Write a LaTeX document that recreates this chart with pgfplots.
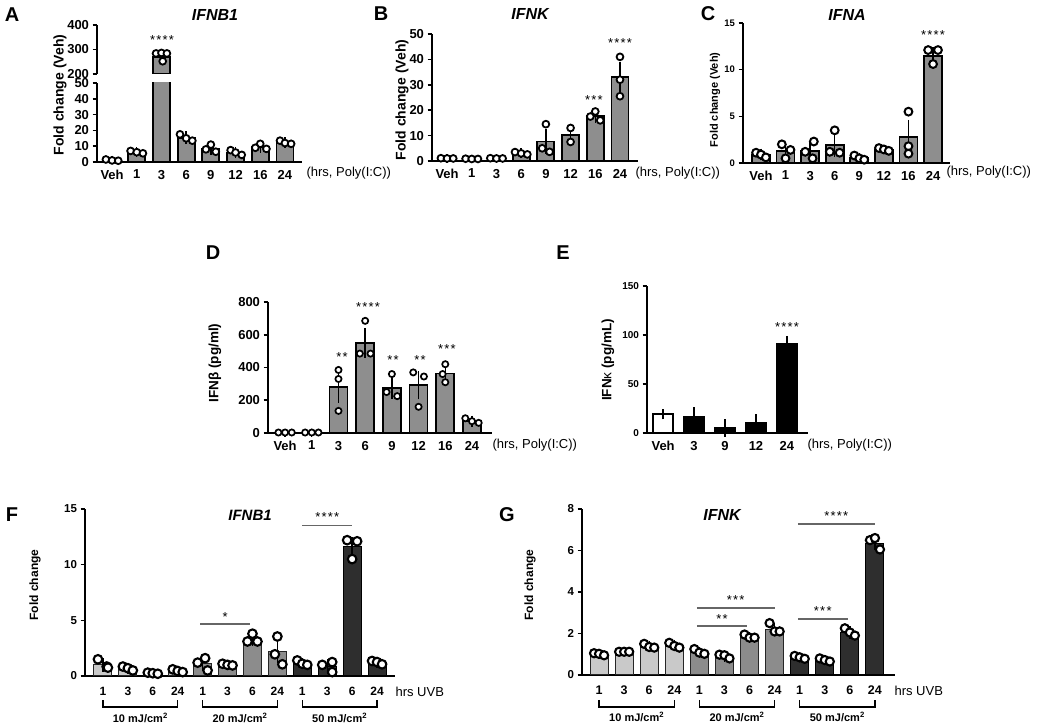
\documentclass[border=0pt]{standalone}
\usepackage{pgfplots}
\pgfplotsset{compat=1.18}
\usepackage{fontspec}
\setmainfont{Liberation Sans}
\definecolor{barg}{HTML}{8E8E8E}
\definecolor{lg}{HTML}{C9C9C9}
\definecolor{mg}{HTML}{8C8C8C}
\definecolor{dg}{HTML}{2E2E2E}
\definecolor{sig}{HTML}{666666}
\newcommand\fs[1]{\fontsize{#1}{#1}\selectfont}
\newcommand\sk{\kern1.2pt}
\pgfplotsset{
  gp/.style={
    scale only axis,
    axis lines*=left,
    axis line style={line width=1.8pt, black},
    tick align=outside,
    major tick length=4.5pt,
    xtick style={draw=none},
    ytick style={line width=1.6pt, black},
    tick label style={font=\fs{13}\bfseries},
    /pgf/number format/assume math mode=true,
    clip=false,
  },
  eb/.style={/pgfplots/error bars/y dir=both, /pgfplots/error bars/y explicit,
    /pgfplots/error bars/error bar style={line width=1.4pt,black},
    /pgfplots/error bars/error mark options={line width=1.4pt,black,mark size=#1}},
  pts/.style 2 args={only marks, mark=*, mark size=#1, mark options={fill=white, draw=black, line width=#2}},
}
\begin{document}
\begin{tikzpicture}
\path[use as bounding box] (0,0) rectangle (1040pt,727pt);

% ---------------- Panel A (broken axis) ----------------
\begin{axis}[gp, clip=true, at={(97pt,565pt)}, anchor=south west, width=205pt, height=79pt,
  xmin=-0.61, xmax=7.69, ymin=0, ymax=50, ytick={0,10,...,50},
  xtick={0,...,7}, xticklabels={Veh,1,3,6,9,12,16,24}]
\addplot[ybar, bar width=17pt, fill=barg, draw=black, line width=1.8pt, eb=4pt] table[x=x,y=y,y error=e]{
x y e
0 1.2 0.3
1 6.2 0.5
2 268 12
3 15.3 1.5
4 8.5 1.6
5 6.0 1.1
6 9.6 1.2
7 12.3 0.8
};
\addplot[pts={3.4pt}{1.8pt}] coordinates {(-0.25,1.6)(0,1.0)(0.25,0.8)
(0.75,7.0)(1,6.2)(1.25,5.5)
(2.75,17.5)(3,15)(3.25,13.5)
(4,11)(3.8,8)(4.2,6.5)
(4.8,7.5)(5,6)(5.25,4.5)
(6,11.5)(5.8,9)(6.25,8.3)
(6.8,13.5)(7,12)(7.25,11.5)};
\end{axis}
\begin{axis}[gp, clip=true, axis x line=none, axis y line*=left, at={(97pt,653pt)}, anchor=south west,
  width=205pt, height=49pt, xmin=-0.61, xmax=7.69, ymin=200, ymax=400, ytick={200,300,400}]
\addplot[ybar, bar width=17pt, fill=barg, draw=black, line width=1.8pt, eb=4pt] coordinates {(2,268) +- (0,9)};
\addplot[pts={3.4pt}{1.8pt}] coordinates {(1.78,284)(2.0,286)(2.22,284)(2.05,252)};
\end{axis}
\node at (12pt,712pt) {\fs{20}\bfseries A};
\node at (215pt,712pt) {\fs{16}\bfseries\itshape IFNB1};
\node[rotate=90] at (60pt,632pt) {\fs{14}\bfseries Fold change (Veh)};
\node[anchor=west] at (303pt,554pt) {\fs{13}(hrs, Poly(I:C))};
\node at (162pt,687pt) {\fs{13}*\sk*\sk*\sk*};

% ---------------- Panel B ----------------
\begin{axis}[gp, at={(432pt,566pt)}, anchor=south west, width=206pt, height=127pt,
  xmin=-0.61, xmax=7.73, ymin=0, ymax=50, ytick={0,10,...,50},
  xtick={0,...,7}, xticklabels={Veh,1,3,6,9,12,16,24}]
\addplot[ybar, bar width=17pt, fill=barg, draw=black, line width=1.8pt, eb=4pt] table[x=x,y=y,y error=e]{
x y e
0 1.0 0.1
1 0.8 0.1
2 1.0 0.1
3 3.0 0.4
4 7.7 3.3
5 10.2 2.8
6 17.6 0.9
7 33 4.5
};
\addplot[pts={3.4pt}{1.8pt}] coordinates {(-0.25,1.1)(0,1.0)(0.25,1.0)
(0.75,0.9)(1,0.8)(1.25,0.8)
(1.75,1.1)(2,1.0)(2.25,1.0)
(2.75,3.5)(3,3.0)(3.25,2.6)
(4,14.5)(3.85,5.0)(4.15,3.6)
(5,13.0)(5,7.5)
(6,19.5)(5.8,17.5)(6.2,16.0)
(7,41)(7,32)(7,25.5)};
\end{axis}
\node at (381pt,713pt) {\fs{20}\bfseries B};
\node at (530pt,713pt) {\fs{16}\bfseries\itshape IFNK};
\node[rotate=90] at (402pt,627pt) {\fs{14}\bfseries Fold change (Veh)};
\node[anchor=west] at (632pt,554pt) {\fs{13}(hrs, Poly(I:C))};
\node at (594pt,627pt) {\fs{13}*\sk*\sk*};
\node at (620pt,684pt) {\fs{13}*\sk*\sk*\sk*};

% ---------------- Panel C ----------------
\begin{axis}[gp, at={(743pt,564pt)}, anchor=south west, width=207pt, height=140pt,
  xmin=-0.73, xmax=7.69, ymin=0, ymax=15, ytick={0,5,10,15},
  yticklabel style={font=\fs{9.5}\bfseries},
  xtick={0,...,7}, xticklabels={Veh,1,3,6,9,12,16,24}]
\addplot[ybar, bar width=18pt, fill=barg, draw=black, line width=1.8pt, eb=4pt] table[x=x,y=y,y error=e]{
x y e
0 0.9 0.2
1 1.25 0.45
2 1.3 0.55
3 1.9 0.8
4 0.5 0.15
5 1.45 0.1
6 2.8 1.4
7 11.5 0.5
};
\addplot[pts={3.9pt}{2pt}] coordinates {(-0.2,1.1)(0,0.9)(0.2,0.6)
(0.85,2.0)(1.2,1.4)(1,0.5)
(2.15,2.3)(1.8,1.2)(2.1,0.5)
(3,3.5)(2.8,1.2)(3.2,1.1)
(3.8,0.8)(4,0.5)(4.2,0.35)
(4.8,1.6)(5,1.45)(5.2,1.3)
(6,5.5)(6,1.8)(6,1.0)
(6.8,12.1)(7.2,12.1)(7,10.6)};
\end{axis}
\node at (708pt,713pt) {\fs{20}\bfseries C};
\node at (847pt,712pt) {\fs{16}\bfseries\itshape IFNA};
\node[rotate=90] at (715pt,627pt) {\fs{11}\bfseries Fold change (Veh)};
\node[anchor=west] at (943pt,555pt) {\fs{13}(hrs, Poly(I:C))};
\node at (933pt,692pt) {\fs{13}*\sk*\sk*\sk*};

% ---------------- Panel D ----------------
\begin{axis}[gp, at={(268pt,294pt)}, anchor=south west, width=224pt, height=131pt,
  xmin=-0.64, xmax=7.75, ymin=0, ymax=800, ytick={0,200,...,800},
  xtick style={line width=1.6pt, black},
  xtick={0,...,7}, xticklabels={Veh,1,3,6,9,12,16,24}]
\addplot[ybar, bar width=18pt, fill=barg, draw=black, line width=1.8pt, eb=4pt] table[x=x,y=y,y error=e]{
x y e
0 0 0
1 0 0
2 283 75
3 550 65
4 277 42
5 292 62
6 363 30
7 72 9
};
\addplot[pts={3.1pt}{1.7pt}] coordinates {(-0.25,3)(0,3)(0.25,3)
(0.75,3)(1,3)(1.25,3)
(2,385)(2,330)(2,135)
(3,685)(2.8,485)(3.2,485)
(4,360)(3.8,250)(4.2,225)
(4.8,370)(5.2,345)(5,160)
(6,420)(5.9,360)(6,310)
(6.75,90)(7,72)(7.25,62)};
\end{axis}
\node at (213pt,474pt) {\fs{20}\bfseries D};
\node[rotate=90] at (215pt,364pt) {\fs{13.5}\bfseries IFNβ (pg/ml)};
\node[anchor=west] at (489pt,282pt) {\fs{13}(hrs, Poly(I:C))};
\node at (342pt,370pt) {\fs{13}*\sk*};
\node at (368pt,420pt) {\fs{13}*\sk*\sk*\sk*};
\node at (393pt,367pt) {\fs{13}*\sk*};
\node at (420pt,367pt) {\fs{13}*\sk*};
\node at (447pt,378pt) {\fs{13}*\sk*\sk*};

% ---------------- Panel E ----------------
\begin{axis}[gp, at={(647pt,294pt)}, anchor=south west, width=161pt, height=147pt,
  xmin=-0.52, xmax=4.68, ymin=0, ymax=150, ytick={0,50,100,150},
  yticklabel style={font=\fs{10}\bfseries},
  xtick style={line width=1.6pt, black},
  xtick={0,...,4}, xticklabels={Veh,3,9,12,24}]
\addplot[ybar, bar width=20pt, fill=white, draw=black, line width=1.8pt, eb=4pt] coordinates {(0,19) +- (0,1)};
\addplot[ybar, bar width=20pt, fill=black, draw=black, line width=1.8pt, eb=4pt] table[x=x,y=y,y error=e]{
x y e
1 16 6
2 5 5
3 10 5
4 91 4
};
\end{axis}
\node at (563pt,474pt) {\fs{20}\bfseries E};
\node[rotate=90] at (608pt,367pt) {\fs{13.5}\bfseries IFN{\mdseries κ} (pg/mL)};
\node[anchor=west] at (804pt,282pt) {\fs{13}(hrs, Poly(I:C))};
\node at (787pt,400pt) {\fs{13}*\sk*\sk*\sk*};

% ---------------- Panel F ----------------
\begin{axis}[gp, at={(85pt,51pt)}, anchor=south west, width=310pt, height=167pt,
  axis line style={line width=1.5pt},
  xmin=-0.72, xmax=11.72, ymin=0, ymax=15, ytick={0,5,10,15},
  yticklabel style={font=\fs{11.5}\bfseries},
  xticklabel style={font=\fs{12}\bfseries, yshift=-3pt},
  xtick={0,...,11}, xticklabels={1,3,6,24,1,3,6,24,1,3,6,24}]
\addplot[ybar, bar width=18pt, fill=lg, draw=black!85, line width=1pt, eb=4pt] table[x=x,y=y,y error=e]{
x y e
0 1.0 0.25
1 0.7 0.12
2 0.25 0.03
3 0.45 0.08
};
\addplot[ybar, bar width=18pt, fill=mg, draw=black!85, line width=1pt, eb=4pt] table[x=x,y=y,y error=e]{
x y e
4 1.1 0.3
5 1.0 0.03
6 3.3 0.25
7 2.2 0.7
};
\addplot[ybar, bar width=18pt, fill=dg, draw=black, line width=1pt, eb=4pt] table[x=x,y=y,y error=e]{
x y e
8 1.1 0.15
9 0.85 0.3
10 11.6 0.5
11 1.2 0.1
};
\addplot[pts={4.3pt}{2.1pt}] coordinates {(-0.2,1.5)(0.15,0.85)(0.2,0.75)
(0.8,0.85)(1,0.7)(1.2,0.5)
(1.8,0.3)(2,0.25)(2.2,0.2)
(2.8,0.6)(3,0.45)(3.2,0.35)
(3.8,1.2)(4.1,1.6)(4.2,0.5)
(4.8,1.1)(5,1.0)(5.2,0.95)
(6,3.8)(5.8,3.1)(6.2,3.1)
(7,3.55)(6.9,1.95)(7.2,1.05)
(7.8,1.4)(8,1.1)(8.2,1.0)
(9.2,1.25)(8.8,1.0)(9.2,0.35)
(9.8,12.2)(10.2,12.1)(10,10.5)
(10.8,1.35)(11,1.25)(11.2,1.05)};
\draw[sig, line width=1.4pt] (axis cs:3.9,4.67) -- (axis cs:5.9,4.67);
\node at (axis cs:4.9,5.3) {\fs{13}*};
\draw[sig, line width=1.4pt] (axis cs:8,13.5) -- (axis cs:10,13.5);
\node at (axis cs:9,14.3) {\fs{13}*\sk*\sk*\sk*};
\draw[black, line width=1.3pt] (axis cs:0,-2.16) -- (axis cs:0,-2.78) -- (axis cs:3,-2.78) -- (axis cs:3,-2.16);
\node at (axis cs:1.5,-3.75) {\fs{11}\bfseries 10 mJ/cm\textsuperscript{2}};
\draw[black, line width=1.3pt] (axis cs:4,-2.16) -- (axis cs:4,-2.78) -- (axis cs:7,-2.78) -- (axis cs:7,-2.16);
\node at (axis cs:5.5,-3.75) {\fs{11}\bfseries 20 mJ/cm\textsuperscript{2}};
\draw[black, line width=1.3pt] (axis cs:8,-2.16) -- (axis cs:8,-2.78) -- (axis cs:11,-2.78) -- (axis cs:11,-2.16);
\node at (axis cs:9.5,-3.75) {\fs{11}\bfseries 50 mJ/cm\textsuperscript{2}};
\end{axis}
\node at (12pt,212pt) {\fs{20}\bfseries F};
\node at (250pt,212pt) {\fs{15}\bfseries\itshape IFNB1};
\node[rotate=90] at (35pt,142pt) {\fs{12}\bfseries Fold change};
\node[anchor=west] at (392pt,35pt) {\fs{13}hrs UVB};

% ---------------- Panel G ----------------
\begin{axis}[gp, at={(582pt,52pt)}, anchor=south west, width=313pt, height=166pt,
  axis line style={line width=1.5pt},
  xmin=-0.68, xmax=11.8, ymin=0, ymax=8, ytick={0,2,...,8},
  yticklabel style={font=\fs{11.5}\bfseries},
  xticklabel style={font=\fs{12.5}\bfseries, yshift=-3pt},
  xtick={0,...,11}, xticklabels={1,3,6,24,1,3,6,24,1,3,6,24}]
\addplot[ybar, bar width=18pt, fill=lg, draw=black!85, line width=1pt, eb=4pt] table[x=x,y=y,y error=e]{
x y e
0 1.0 0.03
1 1.12 0.02
2 1.38 0.07
3 1.42 0.08
};
\addplot[ybar, bar width=18pt, fill=mg, draw=black!85, line width=1pt, eb=4pt] table[x=x,y=y,y error=e]{
x y e
4 1.1 0.07
5 0.9 0.06
6 1.82 0.06
7 2.2 0.13
};
\addplot[ybar, bar width=18pt, fill=dg, draw=black, line width=1pt, eb=4pt] table[x=x,y=y,y error=e]{
x y e
8 0.85 0.05
9 0.72 0.04
10 2.05 0.1
11 6.35 0.15
};
\addplot[pts={4.1pt}{2.1pt}] coordinates {(-0.2,1.05)(0,1.02)(0.2,0.95)
(0.8,1.12)(1,1.12)(1.2,1.12)
(1.8,1.5)(2,1.35)(2.2,1.32)
(2.8,1.55)(3,1.4)(3.2,1.32)
(3.8,1.25)(4,1.08)(4.2,1.02)
(4.8,0.98)(5,0.95)(5.2,0.8)
(5.8,1.95)(6,1.8)(6.2,1.8)
(6.8,2.5)(7,2.1)(7.2,2.1)
(7.8,0.92)(8,0.85)(8.2,0.78)
(8.8,0.8)(9,0.72)(9.2,0.65)
(9.8,2.25)(10,2.05)(10.2,1.9)
(10.8,6.5)(11,6.6)(11.2,6.05)};
\draw[sig, line width=1.4pt] (axis cs:3.9,2.36) -- (axis cs:5.9,2.36);
\node at (axis cs:4.9,2.68) {\fs{13}*\sk*};
\draw[sig, line width=1.4pt] (axis cs:3.9,3.23) -- (axis cs:7,3.23);
\node at (axis cs:5.45,3.62) {\fs{13}*\sk*\sk*};
\draw[sig, line width=1.4pt] (axis cs:7.93,2.7) -- (axis cs:9.92,2.7);
\node at (axis cs:8.92,3.08) {\fs{13}*\sk*\sk*};
\draw[sig, line width=1.4pt] (axis cs:7.93,7.28) -- (axis cs:11,7.28);
\node at (axis cs:9.46,7.65) {\fs{13}*\sk*\sk*\sk*};
\draw[black, line width=1.3pt] (axis cs:0,-1.2) -- (axis cs:0,-1.54) -- (axis cs:3,-1.54) -- (axis cs:3,-1.2);
\node at (axis cs:1.5,-2.0) {\fs{11}\bfseries 10 mJ/cm\textsuperscript{2}};
\draw[black, line width=1.3pt] (axis cs:4,-1.2) -- (axis cs:4,-1.54) -- (axis cs:7,-1.54) -- (axis cs:7,-1.2);
\node at (axis cs:5.5,-2.0) {\fs{11}\bfseries 20 mJ/cm\textsuperscript{2}};
\draw[black, line width=1.3pt] (axis cs:8,-1.2) -- (axis cs:8,-1.54) -- (axis cs:11,-1.54) -- (axis cs:11,-1.2);
\node at (axis cs:9.5,-2.0) {\fs{11}\bfseries 50 mJ/cm\textsuperscript{2}};
\end{axis}
\node at (507pt,212pt) {\fs{20}\bfseries G};
\node at (722pt,212pt) {\fs{16}\bfseries\itshape IFNK};
\node[rotate=90] at (530pt,142pt) {\fs{12}\bfseries Fold change};
\node[anchor=west] at (891pt,36pt) {\fs{13}hrs UVB};
\end{tikzpicture}
\end{document}
